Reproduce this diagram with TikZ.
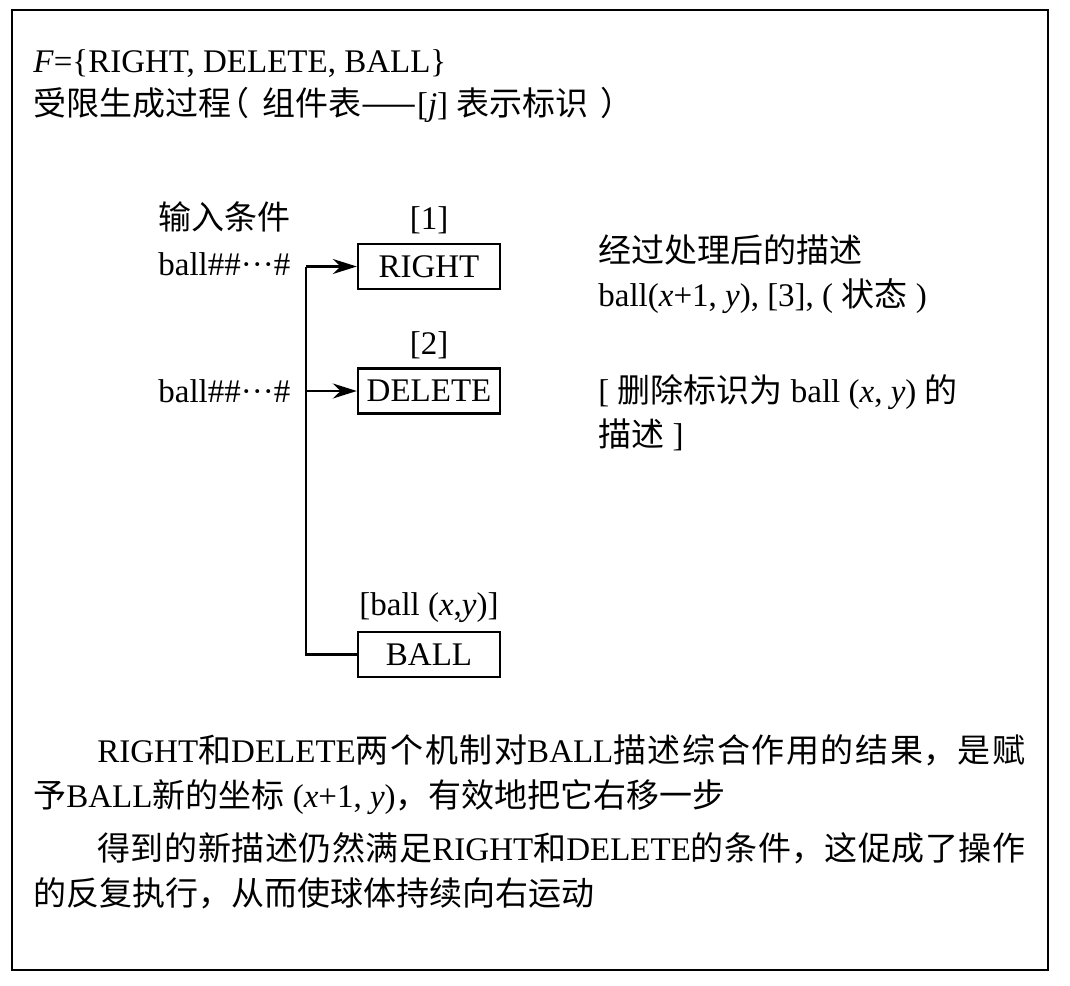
\documentclass[tikz,border=0pt]{standalone}
\usepackage{fontspec}
\setmainfont{Liberation Serif}
\newfontfamily\cjk{Noto Sans CJK SC}
\newcommand{\zh}[1]{{\cjk #1}}
\XeTeXlinebreaklocale "zh"
\XeTeXlinebreakskip = 0pt plus 3pt
\usetikzlibrary{positioning, arrows.meta}

\begin{document}
\begin{tikzpicture}[
    x=0.5pt, y=-0.5pt,
    % Clean styles
    txt/.style={
        font=\fontsize{16.5}{22.5}\selectfont,
        inner sep=0pt,
        anchor=base west
    },
    fullline/.style={
        txt,
        text width=464pt,
        align=justify
    },
    funcbox/.style={
        rectangle,
        draw=black,
        line width=1.2pt,
        minimum width=71pt,
        minimum height=22.5pt,
        inner sep=0pt,
        font=\fontsize{16.5}{22.5}\selectfont
    },
    tag/.style={
        font=\fontsize{16.5}{22.5}\selectfont,
        inner sep=0pt
    },
    arrow/.style={
        -{Stealth[length=12pt, width=7.5pt]},
        line width=1.2pt
    },
    wire/.style={
        line width=1.2pt
    },
    frame/.style={
        line width=1.3pt
    }
]
\useasboundingbox (0,0) rectangle (1070,985);

% === Frame ===
\draw[frame] (12,10) rectangle (1048,970);

% === Top: definition ===
\node[txt] (fset) at (33,72) {\textit{F}=\{RIGHT, DELETE, BALL\}};
\node[txt] (proc) at (33,115) {\zh{受限生成过程\kern-.45em（\kern.4em组件表——}[\textit{j}] \zh{表示标识\kern.35em）}};

% === Middle: components ===
\node[funcbox] (right) at (429,266.5) {RIGHT};
\node[funcbox] (dele) at (429,391) {DELETE};
\node[funcbox] (ball) at (429,654.5) {BALL};

\node[tag, above=4pt of right] (tag1) {[1]};
\node[tag, above=4pt of dele] (tag2) {[2]};
\node[tag, above=4pt of ball] (tag3) {[ball (\textit{x},\textit{y})]};

% === Inputs ===
\node[txt] (inlab) at (158,229) {\zh{输入条件}};
\node[txt] (in1) at (158,275) {ball\#\#···\#};
\node[txt] (in2) at (158,402) {ball\#\#···\#};

% === Connectors ===
\coordinate (joint1) at (306,266.5);
\coordinate (joint2) at (306,391);
\draw[wire] (ball.west) -| (joint1);
\draw[arrow] (joint1) -- (right.west);
\draw[arrow] (joint2) -- (dele.west);

% === Side annotation ===
\node[txt] (out1a) at (598,262) {\zh{经过处理后的描述}};
\node[txt] (out1b) at (598,306) {ball(\textit{x}+1, \textit{y}), [3], ( \zh{状态} )};
\node[txt] (out2a) at (598,402) {[ \zh{删除标识为} ball (\textit{x}, \textit{y}) \zh{的}};
\node[txt] (out2b) at (598,446) {\zh{描述} ]};

% === Bottom: explanation ===
\node[fullline] (p1a) at (97,762) {\parfillskip=0pt RIGHT\zh{和}DELETE\zh{两个机制对}BALL\zh{描述综合作用的结果，是赋}\par};
\node[txt] (p1b) at (33,807) {\zh{予}BALL\zh{新的坐标} (\textit{x}+1, \textit{y})\zh{，有效地把它右移一步}};
\node[fullline] (p2a) at (97,860) {\parfillskip=0pt \zh{得到的新描述仍然满足}RIGHT\zh{和}DELETE\zh{的条件，这促成了操作}\par};
\node[txt] (p2b) at (33,905) {\zh{的反复执行，从而使球体持续向右运动}};

\end{tikzpicture}
\end{document}
